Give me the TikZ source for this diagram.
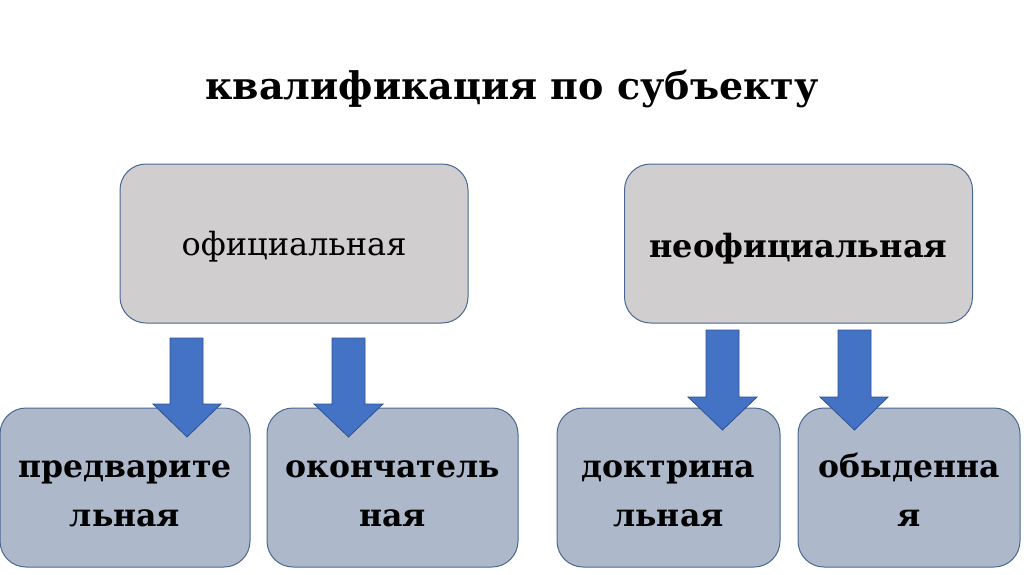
\documentclass[tikz,border=0pt]{standalone}
\usepackage{fontspec}
\setmainfont{DejaVu Serif}
\definecolor{topfill}{HTML}{D0CECE}
\definecolor{botfill}{HTML}{ADB9CA}
\definecolor{boxline}{HTML}{4A6792}
\definecolor{arrfill}{HTML}{4472C4}
\definecolor{arrline}{HTML}{2F528F}
\tikzset{
  topbox/.style={draw=boxline, line width=1pt, fill=topfill, rounded corners=26pt, minimum width=348pt, minimum height=159pt, inner sep=0pt},
  botbox/.style={draw=boxline, line width=1pt, fill=botfill, rounded corners=26pt, minimum height=159pt, inner sep=0pt},
  bottext/.style={align=center, inner sep=0pt, font=\fontsize{31.5}{49}\selectfont\bfseries},
  blockarrow/.style={fill=arrfill, draw=arrline, line width=0.8pt}
}
\begin{document}
\begin{tikzpicture}[x=1pt,y=-1pt]
\useasboundingbox (0,0) rectangle (1024,574);
\fill[white] (0,0) rectangle (1024,574);
\node (title) at (512,89) {\fontsize{38}{44}\selectfont\bfseries квалификация по субъекту};
\node[topbox] (off) at (294,243.5) {};
\node[topbox] (unoff) at (798.5,243.5) {};
\node (offt) at ([yshift=-3pt]off.center) {\fontsize{32}{38}\selectfont официальная};
\node (unofft) at ([yshift=-5pt]unoff.center) {\fontsize{32}{38}\selectfont\bfseries неофициальная};
\node[botbox, minimum width=250pt] (b1) at (125,487.5) {};
\node[botbox, minimum width=251pt] (b2) at (392.5,487.5) {};
\node[botbox, minimum width=223pt] (b3) at (668.5,487.5) {};
\node[botbox, minimum width=222pt] (b4) at (909,487.5) {};
\node[bottext] (b1t) at ([yshift=-5pt]b1.center) {\strut предварите\\\strut льная};
\node[bottext] (b2t) at ([yshift=-5pt]b2.center) {\strut окончатель\\\strut ная};
\node[bottext] (b3t) at ([yshift=-5pt]b3.center) {\strut доктрина\\\strut льная};
\node[bottext] (b4t) at ([yshift=-5pt]b4.center) {\strut обыденна\\\strut я};
% block arrows
\draw[blockarrow] (170,338) -- (203,338) -- (203,404) -- (221,404) -- (187,437) -- (153,404) -- (170,404) -- cycle;
\draw[blockarrow] (332,338) -- (365,338) -- (365,404) -- (383,404) -- (348.5,437) -- (314,404) -- (332,404) -- cycle;
\draw[blockarrow] (706,330) -- (739,330) -- (739,397) -- (757,397) -- (722.5,430) -- (688,397) -- (706,397) -- cycle;
\draw[blockarrow] (838,330) -- (871,330) -- (871,397) -- (888,397) -- (854.5,430) -- (820,397) -- (838,397) -- cycle;
\end{tikzpicture}
\end{document}
